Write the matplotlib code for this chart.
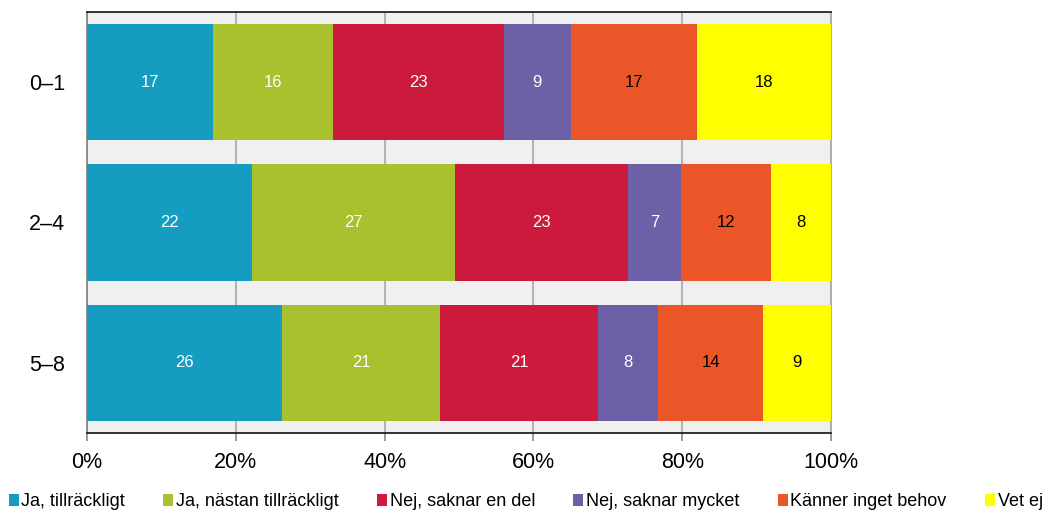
import matplotlib.pyplot as plt
import numpy as np

plt.rcParams['font.family'] = ['Liberation Sans', 'DejaVu Sans']

groups = ['0–1', '2–4', '5–8']
answers = ['Ja, tillräckligt', 'Ja, nästan tillräckligt', 'Nej, saknar en del',
           'Nej, saknar mycket', 'Känner inget behov', 'Vet ej']
values = np.array([
    [17, 16, 23, 9, 17, 18],
    [22, 27, 23, 7, 12, 8],
    [26, 21, 21, 8, 14, 9],
])
colors = ['#149cc1', '#a9c02f', '#cc1a3c', '#6e60a6', '#eb5629', '#ffff00']
label_colors = ['white', 'white', 'white', 'white', 'black', 'black']

shares = values / values.sum(axis=1, keepdims=True) * 100

fig = plt.figure(figsize=(10.46, 5.12), dpi=100)
ax = fig.add_axes([87 / 1046, 1 - 433 / 512, (831 - 87) / 1046, (433 - 12) / 512])
ax.set_facecolor('#f0f0f0')

y = np.arange(len(groups))
left = np.zeros(len(groups))
for i, name in enumerate(answers):
    bars = ax.barh(y, shares[:, i], left=left, height=0.83, color=colors[i],
                   label=name, zorder=3)
    for j, b in enumerate(bars):
        ax.text(left[j] + shares[j, i] / 2, y[j], str(values[j, i]),
                ha='center', va='center', fontsize=12, color=label_colors[i],
                zorder=4)
    left += shares[:, i]

ax.set_xlim(0, 100)
ax.set_ylim(2.5, -0.5)
ax.set_xticks(np.arange(0, 101, 20))
ax.set_xticklabels([f'{t}%' for t in range(0, 101, 20)], fontsize=15.5)
ax.set_yticks(y)
ax.set_yticklabels(groups, fontsize=15.5)
ax.tick_params(axis='y', length=0, pad=16)
ax.tick_params(axis='x', length=6, width=1.2, color='#888888', pad=8)
ax.grid(axis='x', color='#b4b4b4', linewidth=1.5, zorder=0)
ax.spines['top'].set_color('#222222')
ax.spines['bottom'].set_color('#222222')
ax.spines['left'].set_color('#888888')
ax.spines['right'].set_color('#aaaaaa')
for s in ax.spines.values():
    s.set_linewidth(1.3)

fig.legend(loc='lower left', bbox_to_anchor=(-0.002, -0.018), ncol=6, frameon=False,
           fontsize=13, handlelength=0.55, handleheight=0.7, handletextpad=0.15,
           columnspacing=2.12, borderaxespad=0.2)

fig.savefig('out.png', dpi=100)
